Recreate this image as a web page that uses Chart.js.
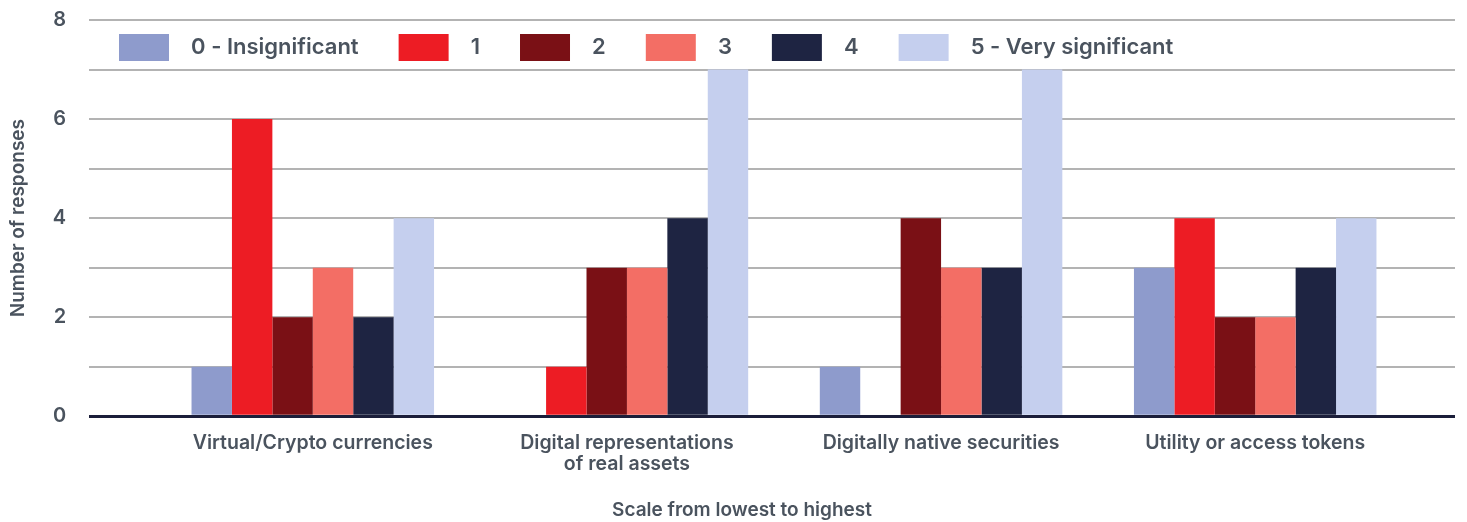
<!DOCTYPE html>
<html lang="en">
<head>
  <meta charset="UTF-8">
  <title>Significance by asset type</title>
  <script src="https://cdn.jsdelivr.net/npm/chart.js"></script>
  <style>
    html, body { margin: 0; padding: 0; background: #fff; }
  </style>
</head>
<body>
  <canvas id="chart" width="1467" height="522"></canvas>
  <script>
    // categories on the x axis (second one wraps on two lines)
    const categories = [
      'Virtual/Crypto currencies',
      ['Digital representations', 'of real assets'],
      'Digitally native securities',
      'Utility or access tokens'
    ];
    const seriesNames = ['0 - Insignificant', '1', '2', '3', '4', '5 - Very significant'];
    const seriesColors = ['#8e9bcc', '#ed1c24', '#7a1015', '#f36e65', '#1e2442', '#c5cfee'];

    // number of responses per score
    const score0 = [1, 0, 1, 3];
    const score1 = [6, 1, 0, 4];
    const score2 = [2, 3, 4, 2];
    const score3 = [3, 3, 3, 2];
    const score4 = [2, 4, 3, 3];
    const score5 = [4, 7, 7, 4];
    const seriesValues = [score0, score1, score2, score3, score4, score5];

    const yLabelled = [0, 2, 4, 6, 8];

    const textColor = '#4a535e';
    const fontFamily = 'Inter, "Noto Sans", sans-serif';
    const legendPad = 40;

    const datasets = seriesValues.map((vals, i) => ({
      label: seriesNames[i],
      data: vals.map((v, j) => ({ x: j, y: v })),
      backgroundColor: seriesColors[i],
      borderWidth: 0,
      categoryPercentage: 0.772,
      barPercentage: 1
    }));

    // the legend takes no room at the top; move it inside the plot.
    // also push the bottom title a little right, like the original
    const placeBoxes = {
      id: 'placeBoxes',
      afterLayout(chart) {
        const lg = chart.legend;
        lg.left = 119 - legendPad;
        lg.top = 34 - legendPad;
        lg.height = 110;
        lg.bottom = lg.top + lg.height;
        const tb = chart.titleBlock;
        tb.left += 17;
      }
    };

    new Chart(document.getElementById('chart'), {
      type: 'bar',
      data: { datasets: datasets },
      plugins: [placeBoxes],
      options: {
        responsive: false,
        devicePixelRatio: 1,
        animation: false,
        layout: { padding: { top: 19, right: 0, bottom: 0, left: 0 } },
        plugins: {
          tooltip: { enabled: false },
          title: {
            display: true,
            position: 'bottom',
            text: 'Scale from lowest to highest',
            color: textColor,
            font: { family: fontFamily, size: 19, weight: '600' },
            padding: { top: 8, bottom: 0 }
          },
          legend: {
            position: 'top',
            align: 'start',
            maxHeight: 1,
            labels: {
              boxWidth: 50,
              boxHeight: 27,
              padding: legendPad,
              color: textColor,
              font: { family: fontFamily, size: 22, weight: '600' },
              generateLabels(chart) {
                const items = Chart.defaults.plugins.legend.labels.generateLabels(chart);
                items.forEach(it => { it.text = '  ' + it.text; });
                return items;
              }
            }
          }
        },
        scales: {
          x: {
            type: 'linear',
            offset: false,
            min: -0.712,
            max: 3.636,
            grid: { display: false, drawTicks: false },
            border: { display: false },
            afterBuildTicks(axis) {
              axis.ticks = categories.map((c, i) => ({ value: i }));
            },
            afterFit(axis) {
              axis.paddingLeft = 0;
              axis.paddingRight = 12;
            },
            ticks: {
              autoSkip: false,
              maxRotation: 0,
              padding: 16,
              color: textColor,
              font: { family: fontFamily, size: 19.5, weight: '600', lineHeight: 1.1 },
              callback: (v) => categories[v]
            }
          },
          y: {
            min: 0,
            max: 8,
            border: { display: false },
            afterFit(axis) {
              axis.paddingTop = 0;
              axis.paddingBottom = 0;
            },
            grid: {
              drawTicks: false,
              color: (ctx) => ctx.tick.value === 0 ? '#1b1e3a' : '#b3b3b3',
              lineWidth: (ctx) => ctx.tick.value === 0 ? 3 : 2
            },
            ticks: {
              stepSize: 1,
              padding: 23,
              color: textColor,
              font: { family: fontFamily, size: 20, weight: '600' },
              callback: (v) => yLabelled.includes(v) ? v : ''
            },
            title: {
              display: true,
              text: 'Number of responses',
              color: textColor,
              font: { family: fontFamily, size: 19, weight: '600' },
              padding: { top: 7, bottom: 0 }
            }
          }
        }
      }
    });
  </script>
</body>
</html>
